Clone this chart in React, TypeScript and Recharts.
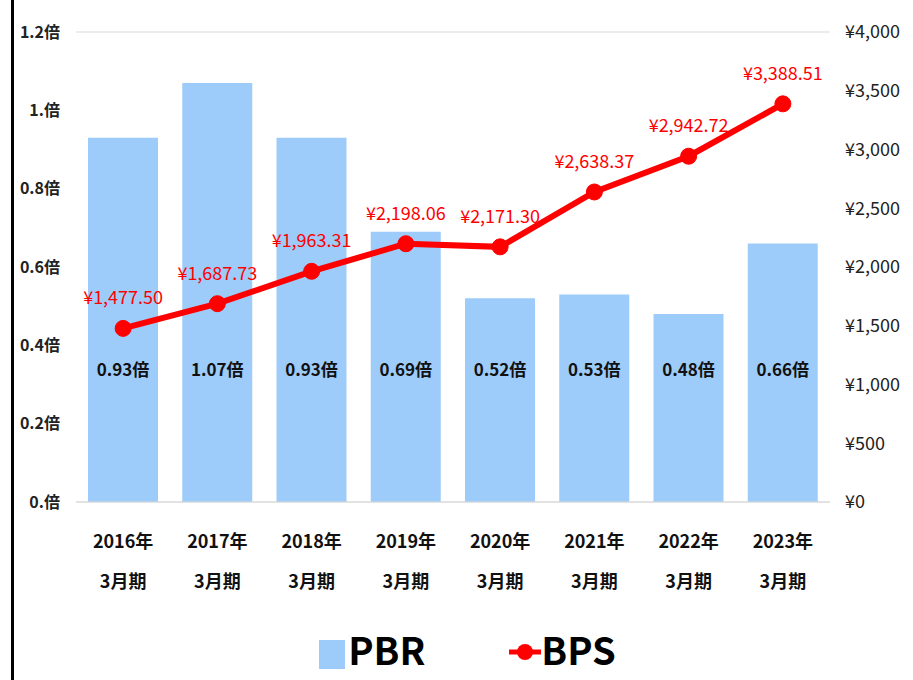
import { ComposedChart, Bar, Line, XAxis, YAxis, CartesianGrid, Legend, LabelList } from "recharts";

const years = ["2016年", "2017年", "2018年", "2019年", "2020年", "2021年", "2022年", "2023年"];
const period = "3月期";
const pbr = [0.93, 1.07, 0.93, 0.69, 0.52, 0.53, 0.48, 0.66];
const bps = [1477.5, 1687.73, 1963.31, 2198.06, 2171.3, 2638.37, 2942.72, 3388.51];
const pbrTicks = [0, 0.2, 0.4, 0.6, 0.8, 1, 1.2];
const bpsTicks = [0, 500, 1000, 1500, 2000, 2500, 3000, 3500, 4000];

const data = years.map((y, i) => ({ year: y, pbr: pbr[i], bps: bps[i] }));

const jp = "'Noto Sans CJK JP', 'Noto Sans', sans-serif";

const yen = (v: number, d = 0) =>
  "¥" + v.toLocaleString("en-US", { minimumFractionDigits: d, maximumFractionDigits: d });

const pbrTick = (v: number) => {
  const s = v.toFixed(1);
  return (s === "0.0" ? "0." : s === "1.0" ? "1." : s) + "倍";
};

function YearTick({ x, y, payload }: any) {
  return (
    <g fontFamily={jp} fontWeight="bold" fontSize={18} fill="#111">
      <text x={x} y={y + 30} textAnchor="middle" dominantBaseline="central">
        {payload.value}
      </text>
      <text x={x} y={y + 70} textAnchor="middle" dominantBaseline="central">
        {period}
      </text>
    </g>
  );
}

function PbrLabel({ x, y, width, height, value }: any) {
  return (
    <text x={x + width / 2} y={y + height - 134} textAnchor="middle" dominantBaseline="central" fontFamily={jp} fontWeight="bold" fontSize={17} fill="#111">
      {value.toFixed(2) + "倍"}
    </text>
  );
}

function LegendBox() {
  return (
    <div style={{ display: "flex", alignItems: "center", justifyContent: "center", fontFamily: jp, fontWeight: "bold", fontSize: 38, color: "#000", lineHeight: "50px", paddingLeft: 8 }}>
      <span style={{ display: "inline-block", width: 26, height: 29, background: "#9DCBFA", marginRight: 3, marginTop: 10 }} />
      <span>PBR</span>
      <svg width={32} height={20} style={{ marginLeft: 84, marginTop: 6 }}>
        <line x1={0} y1={10} x2={32} y2={10} stroke="#FF0000" strokeWidth={5} />
        <circle cx={16} cy={10} r={8} fill="#FF0000" />
      </svg>
      <span>BPS</span>
    </div>
  );
}

export default function App() {
  return (
    <div style={{ position: "absolute", left: 0, top: 0, width: 913, height: 680, background: "#fff", overflow: "hidden" }}>
      <div style={{ position: "absolute", left: 11, top: 0, width: 3, height: 680, background: "#000" }} />
      <ComposedChart
        width={913}
        height={680}
        data={data}
        margin={{ top: 32, right: 0, bottom: 30, left: 14 }}
        barSize={70}
      >
        <CartesianGrid vertical={false} stroke="#D9D9D9" />
        <XAxis
          dataKey="year"
          tick={<YearTick />}
          tickLine={false}
          axisLine={{ stroke: "#D9D9D9" }}
          height={98}
          interval={0}
        />
        <YAxis
          yAxisId="pbr"
          domain={[0, 1.2]}
          ticks={pbrTicks}
          tickFormatter={pbrTick}
          width={62}
          tickLine={false}
          axisLine={false}
          tickMargin={10}
          tick={{ fontFamily: jp, fontWeight: "bold", fontSize: 16, fill: "#222" }}
        />
        <YAxis
          yAxisId="bps"
          orientation="right"
          domain={[0, 4000]}
          ticks={bpsTicks}
          tickFormatter={(v) => yen(v)}
          width={83}
          tickLine={false}
          axisLine={false}
          tickMargin={9}
          tick={{ fontFamily: jp, fontSize: 18, fill: "#222" }}
        />
        <Legend verticalAlign="bottom" content={<LegendBox />} wrapperStyle={{ bottom: 6 }} />
        <Bar yAxisId="pbr" dataKey="pbr" name="PBR" fill="#9DCBFA" isAnimationActive={false}>
          <LabelList dataKey="pbr" content={<PbrLabel />} />
        </Bar>
        <Line
          yAxisId="bps"
          dataKey="bps"
          name="BPS"
          type="linear"
          stroke="#FF0000"
          strokeWidth={6}
          dot={{ r: 8, fill: "#FF0000", stroke: "#FF0000", strokeWidth: 1 }}
          isAnimationActive={false}
        >
          <LabelList
            dataKey="bps"
            position="top"
            offset={24}
            formatter={(v: any) => yen(v, 2)}
            style={{ fontFamily: jp, fontSize: 18, fill: "#FF0000" }}
          />
        </Line>
      </ComposedChart>
    </div>
  );
}
